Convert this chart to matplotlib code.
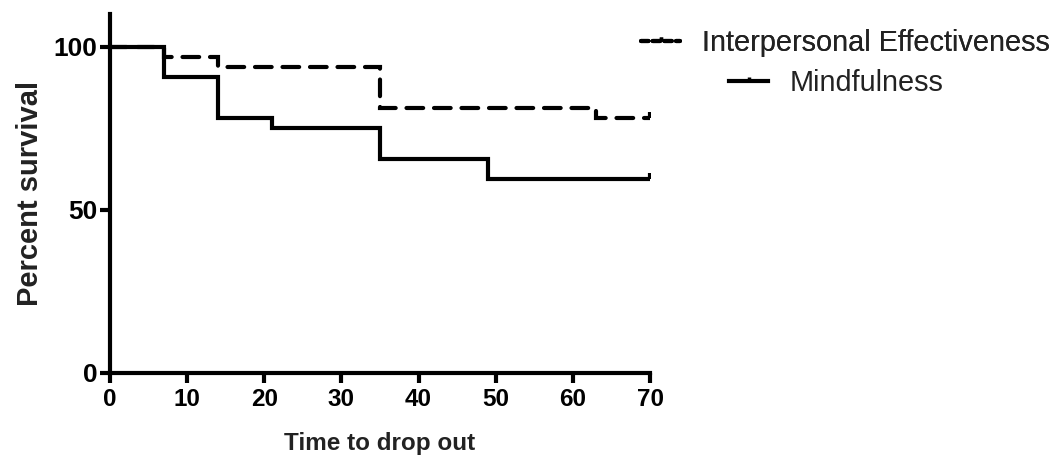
import matplotlib
matplotlib.use("Agg")
import matplotlib.pyplot as plt
from matplotlib.path import Path
from matplotlib.lines import Line2D

plt.rcParams['font.family'] = ['Liberation Sans', 'DejaVu Sans']

# Data (Kaplan-Meier steps)
mind_t = [0, 7, 14, 21, 35, 49, 70]
mind_s = [100, 90.6, 78.1, 75.0, 65.6, 59.4, 59.4]
ie_t = [0, 7, 14, 35, 63, 70]
ie_s = [100, 96.9, 93.8, 81.3, 78.1, 78.1]
series_names = ["Interpersonal Effectiveness", "Mindfulness"]
xticks = [0, 10, 20, 30, 40, 50, 60, 70]
yticks = [0, 50, 100]

tickmark = Path([(0, 0), (0, 1)], [Path.MOVETO, Path.LINETO])

fig = plt.figure(figsize=(10.56, 4.61), dpi=100)
ax = fig.add_axes([110/1056, 1 - 373/461, 540/1056, 359/461])

lw = 3.0
ax.step(mind_t, mind_s, where='post', color='black', lw=lw, solid_capstyle='butt',
        solid_joinstyle='miter')
ax.step(ie_t, ie_s, where='post', color='black', lw=lw, linestyle=(0, (4, 2.6)),
        dash_capstyle='round', dash_joinstyle='miter')
# censored end marks
ax.plot([mind_t[-1]], [mind_s[-1]], marker=tickmark, markersize=9, mew=lw, color='black', ls='none')
ax.plot([ie_t[-1]], [ie_s[-1]], marker=tickmark, markersize=9, mew=lw, color='black', ls='none')

ax.set_xlim(0, 70)
ax.set_ylim(0, 110)
ax.set_xticks(xticks)
ax.set_yticks(yticks)
for s in ['top', 'right']:
    ax.spines[s].set_visible(False)
for s in ['left', 'bottom']:
    ax.spines[s].set_linewidth(3)
ax.spines['left'].set_bounds(0, 110)
ax.tick_params(axis='both', direction='out', length=7, width=3)
ax.tick_params(axis='x', pad=4)
ax.tick_params(axis='y', pad=2)
ax.set_xticklabels([str(v) for v in xticks], fontsize=17.5, fontweight='bold')
ax.set_yticklabels([str(v) for v in yticks], fontsize=19, fontweight='bold')
ax.set_xlabel("Time to drop out", fontsize=17.5, fontweight='bold', labelpad=15,
              color='#222222')
ax.set_ylabel("Percent survival", fontsize=21, fontweight='bold', labelpad=7, color='#222222')

# Legend
h1 = Line2D([], [], color='black', lw=lw, linestyle=(0, (1.8, 1.0)), marker=tickmark,
            markersize=6, mew=2.5, dash_capstyle='round')
h2 = Line2D([], [], color='black', lw=lw, marker=tickmark, markersize=6, mew=2.5)
common = dict(frameon=False, fontsize=20.8, handlelength=1.35, handletextpad=0.75,
              numpoints=1, borderpad=0, borderaxespad=0, loc='center left')
leg1 = fig.legend([h1], [series_names[0]], bbox_to_anchor=(641/1056, 1 - 43/461), **common)
fig.add_artist(leg1)
leg2 = fig.legend([h2], [series_names[1]], bbox_to_anchor=(729/1056, 1 - 83/461), **common)
for t in leg1.get_texts() + leg2.get_texts():
    t.set_color('#222222')

fig.savefig("out.png", dpi=100)
